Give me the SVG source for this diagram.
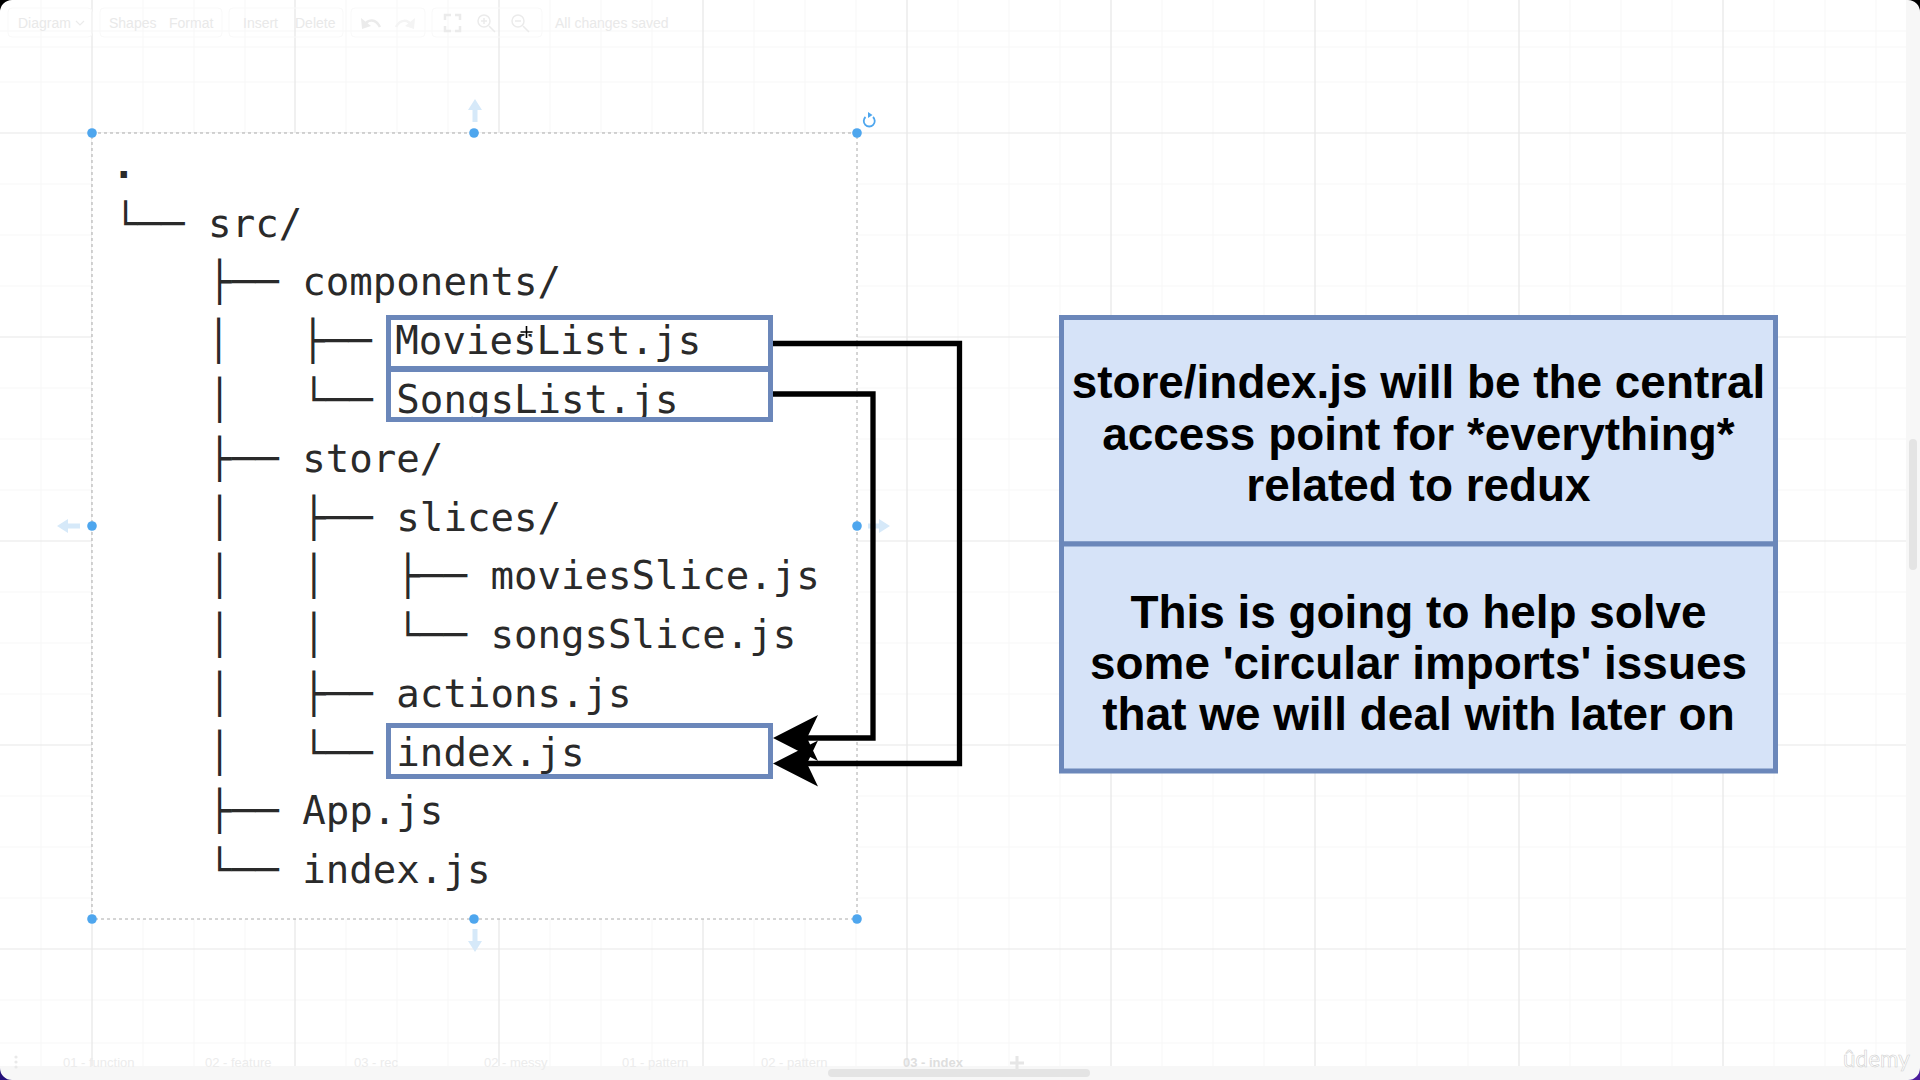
<svg xmlns="http://www.w3.org/2000/svg" width="1920" height="1080" viewBox="0 0 1920 1080">
<style>
.ui{font-family:"Liberation Sans",Arial,sans-serif;font-size:14px;fill:#e9e9e9}
.tab{font-family:"Liberation Sans",Arial,sans-serif;font-size:13px;fill:#ececec}
.tree{font-family:"DejaVu Sans Mono",monospace;font-size:39.1px;fill:#2a2a2a;white-space:pre}
.msg{font-family:"Liberation Sans",Arial,sans-serif;font-size:45.9px;font-weight:700;fill:#000;text-anchor:middle}
.panel{fill:none;stroke:#f9f9f9;stroke-width:1}
.icon{fill:none;stroke:#ebebeb;stroke-width:2.5}
.minor{stroke:#f8f8f8;stroke-width:1.2}
.major{stroke:#e7e7e7;stroke-width:1.2}
.sel{fill:#fff;stroke:#aaa;stroke-width:1;stroke-dasharray:3 3}
.file{fill:none;stroke:#6b87ba;stroke-width:5}
.note{fill:#d6e3f8;stroke:#6b87ba;stroke-width:5}
.wire{fill:none;stroke:#000;stroke-width:5.3}
.hand{fill:#4ea6ee}
.hint{fill:#d6e9f9}
</style>
<defs>
<path id="head" d="M0 0L45 -23L34 0L45 23Z" fill="#000"/>
</defs>
<rect width="1920" height="1080" fill="#fff"/>
<g id="grid">
<path class="minor" d="M41 0V1066M143 0V1066M194 0V1066M245 0V1066M346 0V1066M397 0V1066M448 0V1066M550 0V1066M601 0V1066M652 0V1066M754 0V1066M805 0V1066M856 0V1066M958 0V1066M1009 0V1066M1060 0V1066M1162 0V1066M1213 0V1066M1264 0V1066M1366 0V1066M1417 0V1066M1468 0V1066M1570 0V1066M1621 0V1066M1672 0V1066M1774 0V1066M1825 0V1066M1876 0V1066"/>
<path class="minor" d="M0 31H1906M0 47H1906M0 82H1906M0 184H1906M0 235H1906M0 286H1906M0 388H1906M0 439H1906M0 490H1906M0 592H1906M0 643H1906M0 694H1906M0 796H1906M0 847H1906M0 898H1906M0 1000H1906M0 1043H1906"/>
<path class="major" d="M92 0V1066M295 0V1066M499 0V1066M703 0V1066M907 0V1066M1111 0V1066M1315 0V1066M1519 0V1066M1723 0V1066"/>
<path class="major" d="M0 133H1906M0 337H1906M0 541H1906M0 745H1906M0 949H1906"/>
</g>
<g id="chrome">
<rect x="1906" y="0" width="14" height="1080" fill="#f7f7f7"/>
<rect x="0" y="1066" width="1906" height="14" fill="#f7f7f7"/>
<rect x="1909" y="439" width="8" height="131" rx="4" fill="#e4e4e4"/>
<rect x="828" y="1069" width="262" height="8" rx="4" fill="#e4e4e4"/>
<rect class="panel" x="8" y="8" width="84" height="29" rx="4"/>
<rect class="panel" x="100" y="8" width="122" height="29" rx="4"/>
<rect class="panel" x="229" y="8" width="114" height="29" rx="4"/>
<rect class="panel" x="351" y="8" width="74" height="29" rx="4"/>
<rect class="panel" x="432" y="8" width="110" height="29" rx="4"/>
<text class="ui" x="18" y="27.500">Diagram</text>
<path class="icon" style="stroke-width:1.2" d="M76 21l4 4 4-4"/>
<text class="ui" x="109" y="27.500">Shapes</text>
<text class="ui" x="169" y="27.500">Format</text>
<text class="ui" x="243" y="27.500">Insert</text>
<text class="ui" x="295" y="27.500">Delete</text>
<path class="icon" d="M364 26C368 18 376 19 380 27"/>
<path d="M361 18l1 11 9-3Z" fill="#ebebeb"/>
<path class="icon" style="stroke:#f4f4f4" d="M396 27C400 19 408 19 412 26"/>
<path d="M415 18l-1 11-9-3Z" fill="#f4f4f4"/>
<path class="icon" d="M445 20v-5h6M455 15h5v5M460 26v5h-5M451 31h-6v-5"/>
<circle class="icon" style="stroke-width:1.5" cx="484" cy="21" r="6"/>
<path class="icon" style="stroke-width:1.5" d="M489 26l6 6M481 21h6M484 18v6"/>
<circle class="icon" style="stroke-width:1.5" cx="518" cy="21" r="6"/>
<path class="icon" style="stroke-width:1.5" d="M523 26l6 6M515 21h6"/>
<text class="ui" x="555" y="28">All changes saved</text>
<circle cx="16" cy="1057" r="1.6" fill="#e9e9e9"/><circle cx="16" cy="1062" r="1.6" fill="#e9e9e9"/><circle cx="16" cy="1067" r="1.6" fill="#e9e9e9"/>
<text class="tab" x="63" y="1067">01 - function</text>
<text class="tab" x="205" y="1067">02 - feature</text>
<text class="tab" x="354" y="1067">03 - rec</text>
<text class="tab" x="484" y="1067">02 - messy</text>
<text class="tab" x="622" y="1067">01 - pattern</text>
<text class="tab" x="761" y="1067">02 - pattern</text>
<text class="tab" x="903" y="1067" font-weight="700" style="fill:#dedede">03 - index</text>
<path d="M1017 1056v14M1010 1063h14" stroke="#e6e6e6" stroke-width="3"/>
<text x="1843" y="1067" font-family="Lato,sans-serif" font-size="22.500" fill="#fff" stroke="#cfcfcf" stroke-width=".6">ûdemy</text>
<path d="M0 12A12 12 0 0 1 12 0H0Z" fill="#000"/>
<path d="M1908 0A12 12 0 0 1 1920 12V0Z" fill="#000"/>
<path d="M0 1068A12 12 0 0 0 12 1080H0Z" fill="#24107a"/>
<path d="M1908 1080A12 12 0 0 0 1920 1068V1080Z" fill="#4a1c9c"/>
</g>
<g id="tree">
<rect class="sel" x="92" y="133" width="765" height="786"/>
<text class="tree" x="112" y="178" font-weight="700">.</text>
<text class="tree" x="114" y="236.500">└── src/</text>
<text class="tree" x="114" y="295">    ├── components/</text>
<text class="tree" x="113" y="354">    │   ├── MoviesList.js</text>
<text class="tree" x="114" y="413">    │   └── SongsList.js</text>
<text class="tree" x="114" y="471.500">    ├── store/</text>
<text class="tree" x="114" y="530.500">    │   ├── slices/</text>
<text class="tree" x="114" y="589">    │   │   ├── moviesSlice.js</text>
<text class="tree" x="114" y="648">    │   │   └── songsSlice.js</text>
<text class="tree" x="114" y="706.500">    │   ├── actions.js</text>
<text class="tree" x="114" y="765.500">    │   └── index.js</text>
<text class="tree" x="114" y="824">    ├── App.js</text>
<text class="tree" x="114" y="883">    └── index.js</text>
</g>
<g id="file-movies"><rect class="file" x="388.5" y="317.5" width="382" height="52"/></g>
<g id="file-songs"><rect class="file" x="388.5" y="368.5" width="382" height="51"/></g>
<g id="file-index"><rect class="file" x="388.5" y="725.5" width="382" height="51"/></g>
<g id="selection-handles">
<circle class="hand" cx="92" cy="133" r="4.800"/><circle class="hand" cx="474" cy="133" r="4.800"/><circle class="hand" cx="857" cy="133" r="4.800"/>
<circle class="hand" cx="92" cy="526" r="4.800"/><circle class="hand" cx="857" cy="526" r="4.800"/>
<circle class="hand" cx="92" cy="919" r="4.800"/><circle class="hand" cx="474" cy="919" r="4.800"/><circle class="hand" cx="857" cy="919" r="4.800"/>
<path class="hint" d="M475 99l7 11h-4.500v12h-5v-12h-4.500Z"/>
<path class="hint" d="M475 952l7-11h-4.500v-12h-5v12h-4.500Z"/>
<path class="hint" d="M57 526l11-7v4.500h12v5h-12v4.500Z"/>
<path class="hint" d="M890 526l-11-7v4.500h-11v5h11v4.500Z"/>
<path d="M873 117a5.500 5.500 0 1 1-7.500 0" fill="none" stroke="#4ea6ee" stroke-width="1.800"/>
<path d="M868 112l4.500 3-4.500 3Z" fill="#4ea6ee"/>
</g>
<g id="connectors">
<path class="wire" d="M773 343.500H959.500V763.500H800"/>
<path class="wire" d="M773 394H873V738H800"/>
<use href="#head" x="773" y="738"/>
<use href="#head" x="773" y="763.500"/>
</g>
<g id="note-top">
<rect class="note" x="1061.500" y="317.500" width="714" height="226.500"/>
<text class="msg" x="1418.500" y="398">store/index.js will be the central</text>
<text class="msg" x="1418.500" y="449.500">access point for *everything*</text>
<text class="msg" x="1418.500" y="501">related to redux</text>
</g>
<g id="note-bottom">
<rect class="note" x="1061.500" y="544" width="714" height="227"/>
<text class="msg" x="1418.500" y="628">This is going to help solve</text>
<text class="msg" x="1418.500" y="679">some 'circular imports' issues</text>
<text class="msg" x="1418.500" y="730">that we will deal with later on</text>
</g>
<g id="cursor">
<path d="M526.500 325v14M519.500 332h14" stroke="#fff" stroke-width="4"/>
<path d="M526.500 326v12M520.500 332h12" stroke="#000" stroke-width="1.600"/>
</g>
</svg>
